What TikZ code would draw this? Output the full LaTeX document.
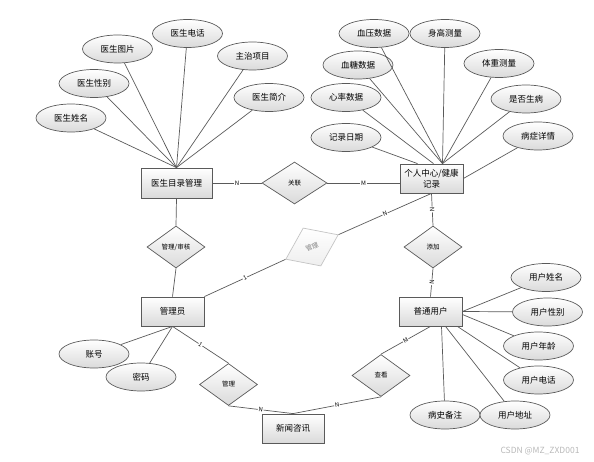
\documentclass[tikz,border=0pt]{standalone}
\usepackage{fontspec}
\setmainfont{Noto Sans CJK SC}
\usetikzlibrary{shapes.geometric}
\definecolor{edgegray}{HTML}{5A5A5A}
\definecolor{fillgray}{HTML}{DADADA}
\definecolor{faintgray}{HTML}{C4C4C4}
\definecolor{markgray}{HTML}{B8B8B8}
\tikzset{
  entity/.style={
    rectangle, draw=edgegray, line width=0.8pt, top color=white, bottom color=fillgray,
    minimum width=63pt, minimum height=29pt, inner sep=1pt, align=center,
    font=\fontsize{8.5}{10.5}\selectfont
  },
  attr/.style={
    ellipse, draw=edgegray, line width=0.7pt, top color=white, bottom color=fillgray,
    minimum width=70pt, minimum height=28pt, inner sep=0pt,
    font=\fontsize{8.5}{10}\selectfont
  },
  relation/.style={
    diamond, draw=edgegray, line width=0.7pt, top color=white, bottom color=fillgray,
    minimum width=58pt, minimum height=42pt, inner sep=0pt,
    font=\fontsize{6.5}{8}\selectfont
  },
  link/.style={draw=edgegray, line width=0.7pt},
  card/.style={font=\fontsize{6}{7}\selectfont, fill=white, inner sep=0.6pt, sloped}
}

\begin{document}
\begin{tikzpicture}[x=1pt, y=-1pt]
\useasboundingbox (0,0) rectangle (594,462);
% entities
\node[entity, minimum width=71pt, minimum height=30pt] (docmgr) at (176.5,183) {医生目录管理};
\node[entity] (record) at (431.5,178.5) {个人中心/健康\\记录};
\node[entity] (admin) at (172.5,311.5) {管理员};
\node[entity] (user) at (430.5,311.5) {普通用户};
\node[entity, minimum width=62pt] (news) at (293,428.5) {新闻咨讯};
% relations
\node[relation, minimum width=65pt] (relate) at (294.5,183) {关联};
\node[relation] (audit) at (176,247) {管理/审核};
\node[relation, rotate=25, draw=faintgray, bottom color=fillgray!45, text=gray] (approve) at (312,247) {管理};
\node[relation] (add) at (433,247) {添加};
\node[relation] (manage) at (228.5,384.5) {管理};
\node[relation] (view) at (381,375.5) {查看};
% doctor attributes
\node[attr] (docname) at (71,118) {医生姓名};
\node[attr] (docsex) at (94,83.5) {医生性别};
\node[attr] (docpic) at (117.5,49) {医生图片};
\node[attr] (doctel) at (187.5,33.5) {医生电话};
\node[attr] (docitem) at (252.5,56) {主治项目};
\node[attr] (docinfo) at (269,97.5) {医生简介};
% record attributes
\node[attr] (pressure) at (374,33.5) {血压数据};
\node[attr] (height) at (445,33.5) {身高测量};
\node[attr] (sugar) at (358,65) {血糖数据};
\node[attr] (weight) at (499,63.5) {体重测量};
\node[attr] (heart) at (346,97.5) {心率数据};
\node[attr] (sick) at (526,99) {是否生病};
\node[attr] (date) at (346,137.5) {记录日期};
\node[attr] (illness) at (538,136) {病症详情};
% user attributes
\node[attr] (uname) at (546,277.5) {用户姓名};
\node[attr] (usex) at (547.5,312) {用户性别};
\node[attr] (uage) at (538.5,346) {用户年龄};
\node[attr] (utel) at (538.5,380) {用户电话};
\node[attr] (uhist) at (445,415) {病史备注};
\node[attr] (uaddr) at (515,415) {用户地址};
% admin attributes
\node[attr] (account) at (94,354) {账号};
\node[attr] (passwd) at (141,377) {密码};
% attribute links
\foreach \a in {docname,docsex,docpic,doctel,docitem,docinfo}
  \draw[link] (docmgr.north) -- (\a);
\foreach \a in {pressure,height,sugar,weight,sick}
  \draw[link] ([xshift=11pt]record.north) -- (\a);
\draw[link] ([xshift=2pt]record.north) -- (heart);
\draw[link] ([xshift=-14pt]record.north) -- (date);
\draw[link] (record.east) -- (illness);
\draw[link] (user.east) -- (uname);
\draw[link] (user.east) -- (usex);
\draw[link] ([yshift=-3pt]user.east) -- (uage);
\draw[link] ([xshift=-5pt]user.south east) -- (utel);
\draw[link] ([xshift=15pt]user.south) -- (uaddr);
\draw[link] ([xshift=11pt]user.south) -- (uhist);
\draw[link] (admin.south) -- (account);
\draw[link] (admin.south) -- (passwd);
% relation links
\draw[link] (docmgr.east) -- node[card] {N} (relate.west);
\draw[link] (relate.east) -- node[card] {M} (relate.east -| record.west);
\draw[link] (docmgr.south) -- (audit.north);
\draw[link] (audit.south) -- (admin.north);
\draw[link] (admin.north east) -- node[card] {1} (approve.west);
\draw[link] (approve.east) -- node[card] {N} (record.south);
\draw[link] (record.south) -- node[card] {N} (add.north);
\draw[link] (add.south) -- node[card] {N} (user.north);
\draw[link] (admin.south) -- node[card] {1} (manage.north);
\draw[link] (manage.south) -- node[card] {N} (news.north);
\draw[link] (user.south) -- node[card] {M} (view.north);
\draw[link] (view.south) -- node[card] {N} (news.north);
\node[text=markgray, font=\fontsize{8.5}{10}\selectfont] (mark) at (540,451) {CSDN @MZ\_ZXD001};
\end{tikzpicture}
\end{document}
